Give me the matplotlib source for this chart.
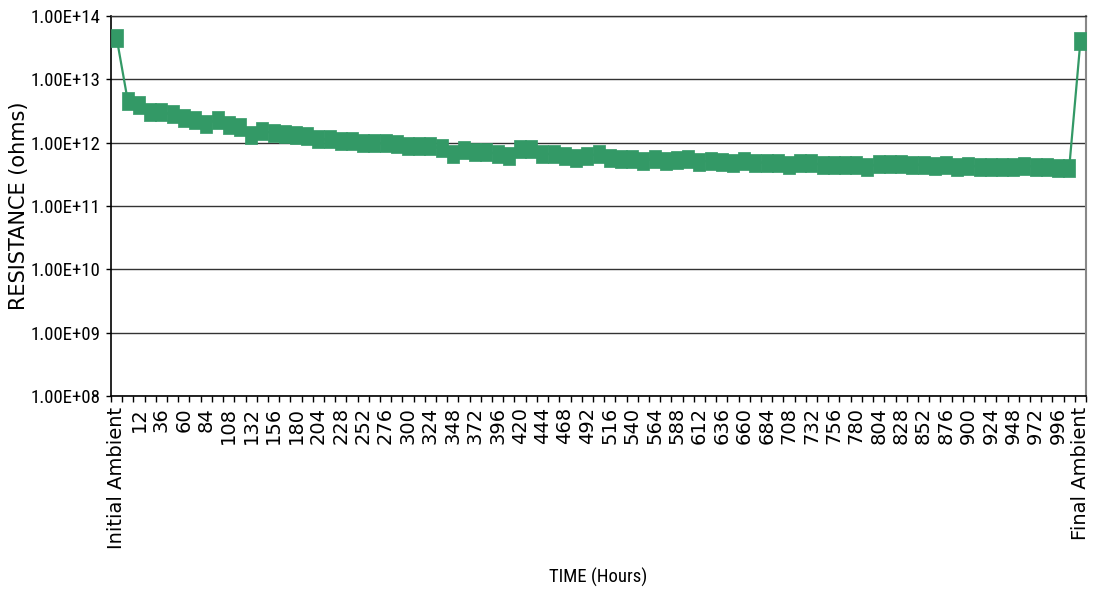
import matplotlib
matplotlib.use('Agg')
import matplotlib.pyplot as plt
from matplotlib import font_manager
from matplotlib.ticker import FixedLocator, FuncFormatter
import numpy as np

# Categories: ambient readings around hourly readings every 12 h
hours = list(range(0, 1009, 12))
categories = ['Initial Ambient'] + [str(h) for h in hours] + ['Final Ambient']

# Resistance readings in units of 1e12 ohms
resistance_e12 = [
    45.0,
    4.5, 4.0, 3.0, 3.0, 2.8, 2.43, 2.3, 2.0, 2.3, 1.9,
    1.75, 1.32, 1.51, 1.43, 1.36, 1.32, 1.26, 1.13, 1.13, 1.05,
    1.05, 0.98, 0.98, 0.98, 0.94, 0.87, 0.87, 0.87, 0.81, 0.67,
    0.755, 0.72, 0.71, 0.67, 0.61, 0.78, 0.78, 0.66, 0.66, 0.61,
    0.58, 0.61, 0.67, 0.58, 0.56, 0.56, 0.52, 0.56, 0.52, 0.54,
    0.56, 0.50, 0.52, 0.50, 0.485, 0.52, 0.485, 0.485, 0.47, 0.45,
    0.47, 0.47, 0.45, 0.45, 0.45, 0.45, 0.41, 0.465, 0.465, 0.465,
    0.45, 0.45, 0.43, 0.44, 0.42, 0.43, 0.42, 0.42, 0.42, 0.42,
    0.43, 0.42, 0.41, 0.40, 0.40,
    40.0,
]
resistance = np.array(resistance_e12) * 1e12

# pick a narrow font if one is installed (reference text is condensed)
names = {f.name for f in font_manager.fontManager.ttflist}
narrow = next((n for n in ['Liberation Sans Narrow', 'Roboto Condensed',
                           'DejaVu Sans Condensed', 'Open Sans Condensed']
               if n in names), None)
if narrow:
    hfont = dict(family=narrow, size=13.5)
else:
    hfont = dict(family='Liberation Sans', size=11.5)
vfont = dict(family='DejaVu Sans', size=14)

green = '#339966'
marker = [(-0.72, -1), (0.72, -1), (0.72, 1), (-0.72, 1), (-0.72, -1)]

fig = plt.figure(figsize=(10.94, 5.90), dpi=100)
ax = fig.add_axes([0.1015, 0.3288, 0.8912, 0.6441])

x = np.arange(len(categories))
ax.plot(x, resistance, color=green, linewidth=1.6, marker=marker,
        markersize=12.4, markerfacecolor=green, markeredgecolor=green,
        markeredgewidth=0.5, zorder=3)

ax.set_yscale('log')
ax.set_ylim(1e8, 1e14)
ax.set_xlim(-0.5, len(categories) - 0.5)
ax.yaxis.set_major_locator(FixedLocator([10.0 ** k for k in range(8, 15)]))
ax.yaxis.set_minor_locator(FixedLocator([]))
ax.yaxis.set_major_formatter(FuncFormatter(lambda v, p: '{:.2E}'.format(v)))
ax.grid(axis='y', color='#333333', linewidth=1.0)

# labels on every other category, tick marks at every boundary
ax.set_xticks(x[::2])
ax.set_xticklabels(categories[::2], rotation=90, ha='center', va='top', **vfont)
ax.set_xticks(np.arange(-0.5, len(categories), 1), minor=True)
ax.tick_params(axis='x', which='major', length=0, pad=8)
ax.tick_params(axis='x', which='minor', length=4.5, width=1, color='black',
               direction='out')
ax.tick_params(axis='y', length=3.6, width=1, pad=4.3, direction='out')
for lab in ax.get_yticklabels():
    lab.set_fontfamily(hfont['family'])
    lab.set_fontsize(hfont['size'])

for side in ['left', 'bottom']:
    ax.spines[side].set_color('black')
    ax.spines[side].set_linewidth(1.2)
ax.spines['top'].set_color('#333333')
ax.spines['top'].set_linewidth(1.0)
ax.spines['right'].set_color('#888888')
ax.spines['right'].set_linewidth(1.5)

ax.set_ylabel('RESISTANCE (ohms)', family='DejaVu Sans', size=15)
ax.yaxis.set_label_coords(-0.084, 0.5)
fig.text(598 / 1094, 1 - 577 / 590, 'TIME (Hours)', ha='center', va='center',
         **hfont)

fig.savefig('out.png', dpi=100)
plt.close(fig)
